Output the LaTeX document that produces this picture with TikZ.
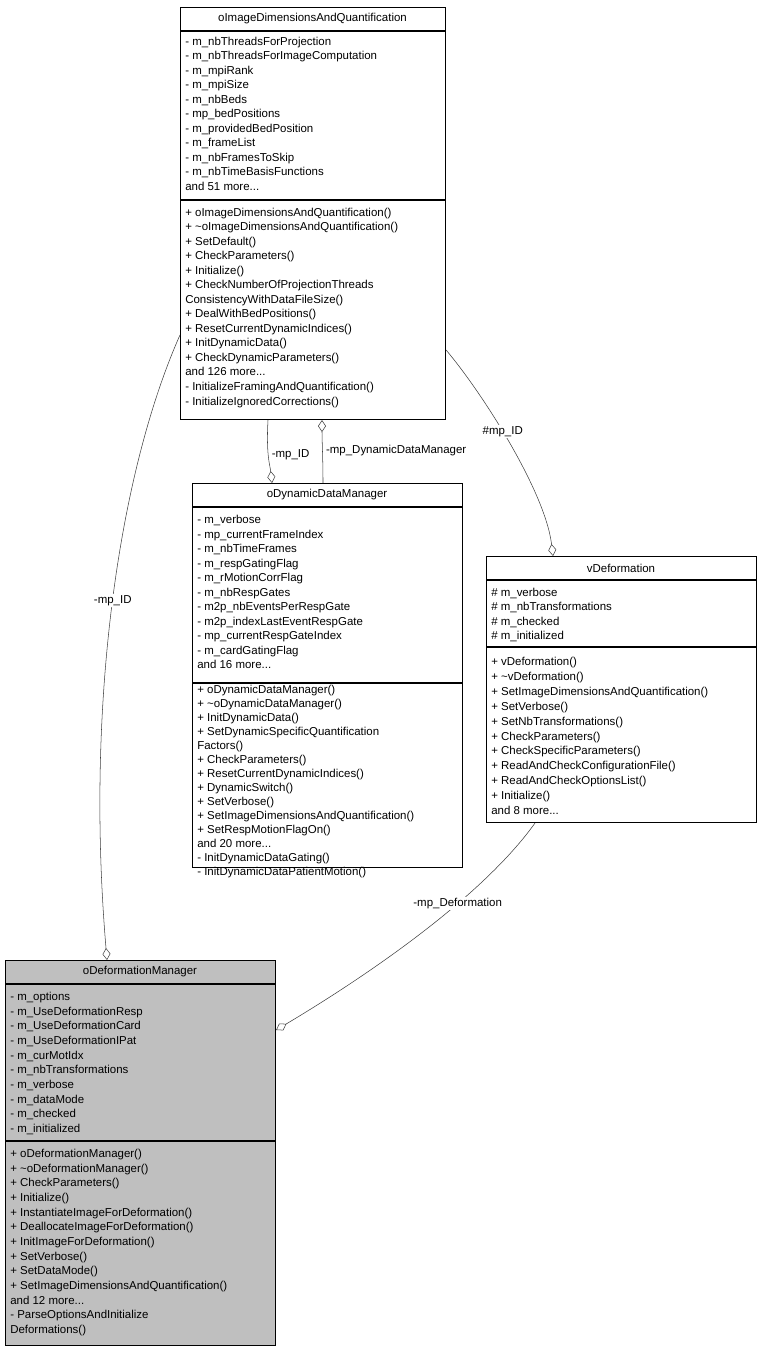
\documentclass[tikz,border=0pt]{standalone}
\usepackage{fontspec}
\setmainfont{Liberation Sans}
\usetikzlibrary{arrows.meta}

\tikzset{
  cls/.style={draw=black,thick,anchor=north west,inner sep=0pt},
  mbr/.style={anchor=base west,inner sep=0pt,font=\fontsize{8.6}{10}\selectfont},
  ttl/.style={inner sep=0pt,font=\fontsize{8.6}{10}\selectfont},
  uses/.style={draw=black!75,-{Diamond[open,length=9pt,width=6pt]}},
  lbl/.style={font=\fontsize{8.6}{10}\selectfont,fill=white,inner sep=1pt}
}
% list of members: x, y of first line centre, step, lines
\newcommand{\mbrlist}[4]{%
  \foreach \t [count=\i from 0] in {#4}
    \node[mbr] at (#1,#2+3.5+\i*#3) {\t};}
\newcommand{\andmore}[1]{and #1 more.{}.{}.}

\begin{document}
\begin{tikzpicture}[x=0.75pt,y=-0.75pt]
  \useasboundingbox (0,0) rectangle (763,1351);

  % class boxes
  \node[cls,minimum width=198.75pt,minimum height=309pt] (IDQ) at (180,7) {};
  \node[cls,minimum width=202.5pt,minimum height=288pt] (DDM) at (192,483) {};
  \node[cls,minimum width=202.5pt,minimum height=199.5pt] (VD) at (486,556) {};
  \node[cls,fill=black!25,minimum width=202.5pt,minimum height=288.75pt] (DM) at (5,960) {};

  % oImageDimensionsAndQuantification
  \node[ttl] (IDQt) at (312.5,19) {oImageDimensionsAndQuantification};
  \draw[thick] (180,31) -- (445,31) (180,200) -- (445,200);
  \mbrlist{185}{42}{14.5}{- m\_nbThreadsForProjection,- m\_nbThreadsForImageComputation,- m\_mpiRank,- m\_mpiSize,- m\_nbBeds,- mp\_bedPositions,- m\_providedBedPosition,- m\_frameList,- m\_nbFramesToSkip,- m\_nbTimeBasisFunctions,\andmore{51}}
  \mbrlist{185}{213}{14.5}{+ oImageDimensionsAndQuantification(),+ \textasciitilde oImageDimensionsAndQuantification(),+ SetDefault(),+ CheckParameters(),+ Initialize(),+ CheckNumberOfProjectionThreads,ConsistencyWithDataFileSize(),+ DealWithBedPositions(),+ ResetCurrentDynamicIndices(),+ InitDynamicData(),+ CheckDynamicParameters(),\andmore{126},- InitializeFramingAndQuantification(),- InitializeIgnoredCorrections()}

  % oDynamicDataManager
  \node[ttl] (DDMt) at (327,495) {oDynamicDataManager};
  \draw[thick] (192,507) -- (462,507) (192,683) -- (462,683);
  \mbrlist{197}{520}{14.5}{- m\_verbose,- mp\_currentFrameIndex,- m\_nbTimeFrames,- m\_respGatingFlag,- m\_rMotionCorrFlag,- m\_nbRespGates,- m2p\_nbEventsPerRespGate,- m2p\_indexLastEventRespGate,- mp\_currentRespGateIndex,- m\_cardGatingFlag,\andmore{16}}
  \mbrlist{197}{690}{14}{+ oDynamicDataManager(),+ \textasciitilde oDynamicDataManager(),+ InitDynamicData(),+ SetDynamicSpecificQuantification,Factors(),+ CheckParameters(),+ ResetCurrentDynamicIndices(),+ DynamicSwitch(),+ SetVerbose(),+ SetImageDimensionsAndQuantification(),+ SetRespMotionFlagOn(),\andmore{20},- InitDynamicDataGating(),- InitDynamicDataPatientMotion()}

  % vDeformation
  \node[ttl] (VDt) at (621,568) {vDeformation};
  \draw[thick] (486,580) -- (756,580) (486,647) -- (756,647);
  \mbrlist{491}{593}{14.3}{\# m\_verbose,\# m\_nbTransformations,\# m\_checked,\# m\_initialized}
  \mbrlist{491}{662}{14.9}{+ vDeformation(),+ \textasciitilde vDeformation(),+ SetImageDimensionsAndQuantification(),+ SetVerbose(),+ SetNbTransformations(),+ CheckParameters(),+ CheckSpecificParameters(),+ ReadAndCheckConfigurationFile(),+ ReadAndCheckOptionsList(),+ Initialize(),\andmore{8}}

  % oDeformationManager
  \node[ttl] (DMt) at (140,972) {oDeformationManager};
  \draw[thick] (5,984) -- (275,984) (5,1141) -- (275,1141);
  \mbrlist{10}{997}{14.67}{- m\_options,- m\_UseDeformationResp,- m\_UseDeformationCard,- m\_UseDeformationIPat,- m\_curMotIdx,- m\_nbTransformations,- m\_verbose,- m\_dataMode,- m\_checked,- m\_initialized}
  \mbrlist{10}{1154}{14.67}{+ oDeformationManager(),+ \textasciitilde oDeformationManager(),+ CheckParameters(),+ Initialize(),+ InstantiateImageForDeformation(),+ DeallocateImageForDeformation(),+ InitImageForDeformation(),+ SetVerbose(),+ SetDataMode(),+ SetImageDimensionsAndQuantification(),\andmore{12},- ParseOptionsAndInitialize,Deformations()}

  % associations
  \draw[uses] (IDQ.west |- 0,335) .. controls (120,470) and (85,700) .. (DM.north -| 107,0)
    node[lbl,pos=0.5] {-mp\_ID};
  \draw[uses] (IDQ.south -| 268,0) .. controls (266,455) and (270,465) .. (DDM.north -| 272,0)
    node[lbl,pos=0.45,right=1.5pt] {-mp\_ID};
  \draw[uses] (DDM.north -| 323,0) .. controls (323,460) and (322,440) .. (IDQ.south -| 322,0)
    node[lbl,pos=0.5,right=1.5pt] {-mp\_DynamicDataManager};
  \draw[uses] (IDQ.east |- 0,350) .. controls (480,390) and (545,490) .. (VD.north -| 553,0)
    node[lbl,pos=0.45] {\#mp\_ID};
  \draw[uses] (VD.south -| 535,0) .. controls (480,900) and (360,980) .. (DM.east |- 0,1030)
    node[lbl,pos=0.35] {-mp\_Deformation};
\end{tikzpicture}
\end{document}
